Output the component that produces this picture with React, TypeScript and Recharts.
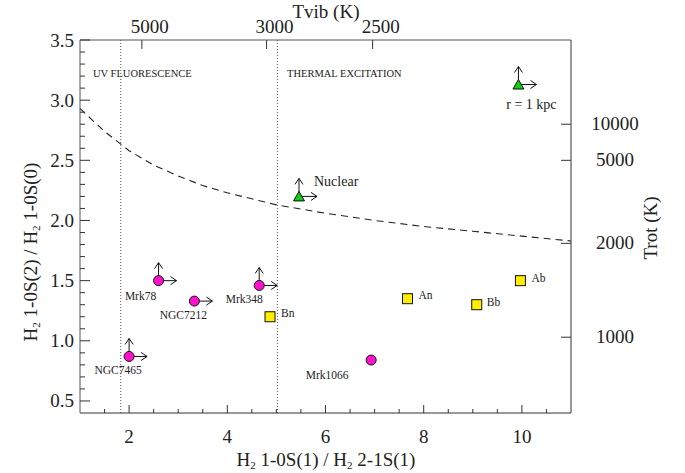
import React from "react";
import { ScatterChart, Scatter, XAxis, YAxis, ReferenceLine } from "recharts";

const FONT = "'Liberation Serif', 'DejaVu Serif', 'Times New Roman', serif";
const INK = "#222";

// Seyfert nuclei (magenta circles)
const seyfertNames = ["Mrk78", "NGC7212", "Mrk348", "NGC7465", "Mrk1066"];
const seyfertX = [2.6, 3.33, 4.65, 2.0, 6.93];
const seyfertY = [1.5, 1.33, 1.46, 0.87, 0.84];
const seyfertUp = [true, false, true, true, false];
const seyfertRight = [true, true, true, true, false];

// knots (yellow squares)
const knotNames = ["Bn", "An", "Bb", "Ab"];
const knotX = [4.87, 7.67, 9.08, 9.97];
const knotY = [1.2, 1.35, 1.3, 1.5];

// green triangles
const triNames = ["Nuclear", "r = 1 kpc"];
const triX = [5.46, 9.93];
const triY = [2.2, 3.13];

// thermal curve (dashed)
const curveX = [1, 1.5, 2, 2.5, 3, 3.5, 4, 4.5, 5, 6, 7, 8, 9, 10, 11];
const curveY = [2.93, 2.74, 2.58, 2.46, 2.37, 2.29, 2.23, 2.18, 2.13, 2.06, 2.0, 1.95, 1.91, 1.87, 1.83];

// axes
const xTicks = [1.5, 2, 2.5, 3, 3.5, 4, 4.5, 5, 5.5, 6, 6.5, 7, 7.5, 8, 8.5, 9, 9.5, 10, 10.5];
const xLabels = [2, 4, 6, 8, 10];
const yTicks = [
  0.5, 0.6, 0.7, 0.8, 0.9, 1.0, 1.1, 1.2, 1.3, 1.4, 1.5, 1.6, 1.7, 1.8, 1.9, 2.0, 2.1, 2.2, 2.3, 2.4,
  2.5, 2.6, 2.7, 2.8, 2.9, 3.0, 3.1, 3.2, 3.3, 3.4, 3.5,
];
const yLabels = [0.5, 1.0, 1.5, 2.0, 2.5, 3.0, 3.5];
const tvibPos = [2.26, 4.8, 6.96];
const tvibLabels = ["5000", "3000", "2500"];
const trotPos = [2.8, 2.5, 1.81, 1.03];
const trotLabels = ["10000", "5000", "2000", "1000"];
const dividers = [1.83, 5.02];

const seyfertData = seyfertNames.map((name, i) => ({
  name,
  x: seyfertX[i],
  y: seyfertY[i],
  up: seyfertUp[i],
  right: seyfertRight[i],
}));
const knotData = knotNames.map((name, i) => ({ name, x: knotX[i], y: knotY[i], up: false, right: false }));
const triData = triNames.map((name, i) => ({ name, x: triX[i], y: triY[i], up: true, right: true }));
const curveData = curveX.map((x, i) => ({ x, y: curveY[i] }));

// label placement relative to the marker: dx, dy (baseline), anchor, size
const labelPlace: Record<string, [number, number, string, number]> = {
  Mrk78: [-18, 19, "middle", 11.5],
  NGC7212: [-11, 18, "middle", 11.5],
  Mrk348: [-15, 18, "middle", 11.5],
  NGC7465: [-11, 18, "middle", 11.5],
  Mrk1066: [-44, 19, "middle", 11.5],
  Bn: [11, 0, "start", 11.5],
  An: [11, 0, "start", 11.5],
  Bb: [10, 1, "start", 11.5],
  Ab: [11, 1, "start", 11.5],
  Nuclear: [15, -10, "start", 14],
  "r = 1 kpc": [13, 24, "middle", 14],
};

function Arrows({ cx, cy, up, right }: { cx: number; cy: number; up: boolean; right: boolean }) {
  const L = 18;
  return (
    <g stroke="#111" strokeWidth={1} fill="none">
      {up && (
        <>
          <line x1={cx} y1={cy} x2={cx} y2={cy - L} />
          <polyline points={`${cx - 4},${cy - L + 6} ${cx},${cy - L} ${cx + 4},${cy - L + 6}`} />
        </>
      )}
      {right && (
        <>
          <line x1={cx} y1={cy} x2={cx + L} y2={cy} />
          <polyline points={`${cx + L - 6},${cy - 4} ${cx + L},${cy} ${cx + L - 6},${cy + 4}`} />
        </>
      )}
    </g>
  );
}

function PointLabel({ cx, cy, name }: { cx: number; cy: number; name: string }) {
  const [dx, dy, anchor, size] = labelPlace[name] || [8, 0, "start", 11.5];
  return (
    <text x={cx + dx} y={cy + dy} textAnchor={anchor as any} fontSize={size} fontFamily={FONT} fill={INK}>
      {name}
    </text>
  );
}

const circleShape = (props: any) => {
  const { cx, cy, payload } = props;
  return (
    <g>
      <Arrows cx={cx} cy={cy} up={payload.up} right={payload.right} />
      <circle cx={cx} cy={cy} r={5} fill="#ff10cc" stroke="#111" strokeWidth={1} />
      <PointLabel cx={cx} cy={cy} name={payload.name} />
    </g>
  );
};

const squareShape = (props: any) => {
  const { cx, cy, payload } = props;
  return (
    <g>
      <rect x={cx - 5} y={cy - 5} width={10} height={10} fill="#ffee00" stroke="#111" strokeWidth={1} />
      <PointLabel cx={cx} cy={cy} name={payload.name} />
    </g>
  );
};

const triangleShape = (props: any) => {
  const { cx, cy, payload } = props;
  return (
    <g>
      <Arrows cx={cx} cy={cy} up={payload.up} right={payload.right} />
      <polygon
        points={`${cx - 5.5},${cy + 4.5} ${cx + 5.5},${cy + 4.5} ${cx},${cy - 5}`}
        fill="#11cc11"
        stroke="#111"
        strokeWidth={1}
      />
      <PointLabel cx={cx} cy={cy} name={payload.name} />
    </g>
  );
};

const BottomTick = (props: any) => {
  const { x, y, payload } = props;
  const v = payload.value;
  const major = xLabels.includes(v);
  return (
    <g>
      <line x1={x} x2={x} y1={y} y2={y - (major ? 8 : 4)} stroke="#333" />
      {major && (
        <text x={x} y={y + 30} textAnchor="middle" fontSize={19} fontFamily={FONT} fill={INK}>
          {v}
        </text>
      )}
    </g>
  );
};

const TopTick = (props: any) => {
  const { x, y, payload } = props;
  const idx = tvibPos.indexOf(payload.value);
  return (
    <g>
      <line x1={x} x2={x} y1={y} y2={y + 9} stroke="#333" />
      <text x={x + 8} y={y - 7} textAnchor="middle" fontSize={19} fontFamily={FONT} fill={INK}>
        {tvibLabels[idx]}
      </text>
    </g>
  );
};

const LeftTick = (props: any) => {
  const { x, y, payload } = props;
  const v = payload.value;
  const major = yLabels.includes(v);
  return (
    <g>
      <line x1={x} x2={x + (major ? 10 : 5)} y1={y} y2={y} stroke="#333" />
      {major && (
        <text x={x - 6} y={y + 6.5} textAnchor="end" fontSize={19} fontFamily={FONT} fill={INK}>
          {v.toFixed(1)}
        </text>
      )}
    </g>
  );
};

const RightTick = (props: any) => {
  const { x, y, payload } = props;
  const idx = trotPos.indexOf(payload.value);
  return (
    <g>
      <line x1={x} x2={x - 10} y1={y} y2={y} stroke="#333" />
      <text x={x + 44} y={y + 6} textAnchor="middle" fontSize={19} fontFamily={FONT} fill={INK}>
        {trotLabels[idx]}
      </text>
    </g>
  );
};

export default function App() {
  const sub = { fontSize: 11, dy: 3 };
  return (
    <div style={{ position: "absolute", left: 0, top: 0, width: 685, height: 473, background: "#fff" }}>
      <ScatterChart width={685} height={473} margin={{ top: 0, right: 0, bottom: 0, left: 0 }}>
        <XAxis
          xAxisId="bottom"
          type="number"
          dataKey="x"
          domain={[1, 11]}
          ticks={xTicks}
          interval={0}
          allowDataOverflow
          height={60}
          tickSize={0}
          tickMargin={0}
          tick={<BottomTick />}
          axisLine={{ stroke: "#333" }}
        />
        <XAxis
          xAxisId="top"
          orientation="top"
          type="number"
          dataKey="x"
          domain={[1, 11]}
          ticks={tvibPos}
          interval={0}
          allowDataOverflow
          height={40}
          tickSize={0}
          tickMargin={0}
          tick={<TopTick />}
          axisLine={{ stroke: "#555" }}
        />
        <YAxis
          yAxisId="left"
          type="number"
          dataKey="y"
          domain={[0.4, 3.5]}
          ticks={yTicks}
          interval={0}
          allowDataOverflow
          width={80}
          tickSize={0}
          tickMargin={0}
          tick={<LeftTick />}
          axisLine={{ stroke: "#555" }}
        />
        <YAxis
          yAxisId="right"
          orientation="right"
          type="number"
          dataKey="y"
          domain={[0.4, 3.5]}
          ticks={trotPos}
          interval={0}
          allowDataOverflow
          width={114}
          tickSize={0}
          tickMargin={0}
          tick={<RightTick />}
          axisLine={{ stroke: "#333" }}
        />
        {dividers.map((d) => (
          <ReferenceLine
            key={d}
            x={d}
            xAxisId="bottom"
            yAxisId="left"
            stroke="#555"
            strokeDasharray="1 2"
          />
        ))}
        <Scatter
          data={curveData}
          xAxisId="bottom"
          yAxisId="left"
          line={{ stroke: "#222", strokeWidth: 1.1, strokeDasharray: "7 5" }}
          lineType="joint"
          shape={() => <g />}
          isAnimationActive={false}
        />
        <Scatter data={knotData} xAxisId="bottom" yAxisId="left" shape={squareShape} isAnimationActive={false} />
        <Scatter data={seyfertData} xAxisId="bottom" yAxisId="left" shape={circleShape} isAnimationActive={false} />
        <Scatter data={triData} xAxisId="bottom" yAxisId="left" shape={triangleShape} isAnimationActive={false} />
      </ScatterChart>
      <svg
        width={685}
        height={473}
        style={{ position: "absolute", left: 0, top: 0, pointerEvents: "none" }}
        fontFamily={FONT}
        fill={INK}
      >
        <text x={326} y={18} textAnchor="middle" fontSize={19}>
          Tvib (K)
        </text>
        <text x={93} y={77} fontSize={10.5}>
          UV FLUORESCENCE
        </text>
        <text x={287} y={77} fontSize={10.5}>
          THERMAL EXCITATION
        </text>
        <text x={326} y={466} textAnchor="middle" fontSize={19}>
          H<tspan {...sub}>2</tspan>
          <tspan fontSize={19} dy={-3}>
            {" "}1-0S(1) / H
          </tspan>
          <tspan {...sub}>2</tspan>
          <tspan fontSize={19} dy={-3}>
            {" "}2-1S(1)
          </tspan>
        </text>
        <text x={0} y={0} textAnchor="middle" fontSize={19} transform="translate(37,252) rotate(-90)">
          H<tspan {...sub}>2</tspan>
          <tspan fontSize={19} dy={-3}>
            {" "}1-0S(2) / H
          </tspan>
          <tspan {...sub}>2</tspan>
          <tspan fontSize={19} dy={-3}>
            {" "}1-0S(0)
          </tspan>
        </text>
        <text x={0} y={0} textAnchor="middle" fontSize={19} transform="translate(657,228) rotate(-90)">
          Trot (K)
        </text>
      </svg>
    </div>
  );
}
